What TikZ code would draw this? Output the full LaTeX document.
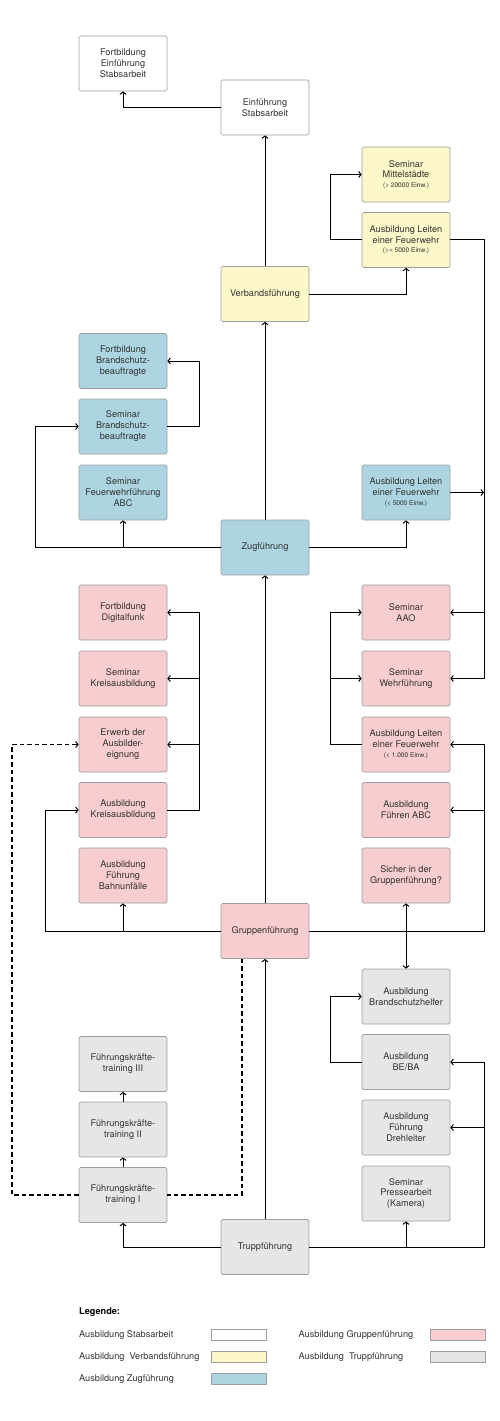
\documentclass[tikz,border=0pt]{standalone}
\usepackage{fontspec}
\setmainfont{TeX Gyre Heros}
\usetikzlibrary{arrows.meta,calc}
\definecolor{cYel}{HTML}{FBF7C8}
\definecolor{cBlue}{HTML}{ADD5E1}
\definecolor{cRed}{HTML}{F7CDD0}
\definecolor{cGray}{HTML}{E6E6E6}
\definecolor{cBorder}{HTML}{9E9E9E}
\definecolor{cText}{HTML}{333333}
\newcommand{\smalltxt}[1]{{\fontsize{6.6}{7.5}\selectfont #1}}
\begin{document}
\begin{tikzpicture}[x=1bp,y=-1bp,
  box/.style={draw=cBorder, line width=0.7bp, rounded corners=1.5bp, minimum width=88bp, minimum height=55bp, inner sep=0pt, align=center, font=\fontsize{9.2}{11}\selectfont, text=cText},
  stab/.style={box, fill=white},
  verb/.style={box, fill=cYel},
  zugb/.style={box, fill=cBlue},
  grp/.style={box, fill=cRed},
  trp/.style={box, fill=cGray},
  conn/.style={line width=1bp, draw=black},
  arr/.style={conn, -{Straight Barb[length=2.4bp,width=6bp,line width=1bp]}},
  darr/.style={conn, {Straight Barb[length=2.4bp,width=6bp,line width=1bp]}-{Straight Barb[length=2.4bp,width=6bp,line width=1bp]}},
  dsh/.style={arr, dash pattern=on 4.5bp off 3bp, line width=1.1bp},
  legtxt/.style={anchor=base west, inner sep=0pt, font=\fontsize{9.2}{11}\selectfont, text=cText},
  swatch/.style={draw=cBorder, line width=0.7bp, minimum width=55bp, minimum height=11bp, inner sep=0pt}
]
\useasboundingbox (0,0) rectangle (500,1421);

% column x: left 123, centre 265, right 406
% Stabsarbeit
\node[stab] (forteinf) at (123,63.5) {Fortbildung\\Einführung\\Stabsarbeit};
\node[stab] (einf) at (265,107.5) {Einführung\\Stabsarbeit};
% Verbandsführung
\node[verb] (semmittel) at (406,174.5) {Seminar\\Mittelstädte\\[-1.5pt]\smalltxt{(> 20000 Einw.)}};
\node[verb] (leitenV) at (406,240) {Ausbildung Leiten\\einer Feuerwehr\\[-1.5pt]\smalltxt{(>= 5000 Einw.)}};
\node[verb] (verband) at (265,294) {Verbandsführung};
% Zugführung
\node[zugb] (fortBS) at (123,361) {Fortbildung\\Brandschutz-\\beauftragte};
\node[zugb] (semBS) at (123,426.5) {Seminar\\Brandschutz-\\beauftragte};
\node[zugb] (semFF) at (123,492.5) {Seminar\\Feuerwehrführung\\ABC};
\node[zugb] (leiten5) at (406,492.5) {Ausbildung Leiten\\einer Feuerwehr\\[-1.5pt]\smalltxt{(< 5000 Einw.)}};
\node[zugb] (zug) at (265,547.5) {Zugführung};
% Gruppenführung
\node[grp] (digital) at (123,612.5) {Fortbildung\\Digitalfunk};
\node[grp] (semkreis) at (123,678.5) {Seminar\\Kreisausbildung};
\node[grp] (erwerb) at (123,744.5) {Erwerb der\\Ausbilder-\\eignung};
\node[grp] (auskreis) at (123,810) {Ausbildung\\Kreisausbildung};
\node[grp] (bahn) at (123,875.5) {Ausbildung\\Führung\\Bahnunfälle};
\node[grp] (aao) at (406,612.5) {Seminar\\AAO};
\node[grp] (wehrf) at (406,678.5) {Seminar\\Wehrführung};
\node[grp] (leiten1) at (406,744.5) {Ausbildung Leiten\\einer Feuerwehr\\[-1.5pt]\smalltxt{(< 1.000 Einw.)}};
\node[grp] (fabc) at (406,810) {Ausbildung\\Führen ABC};
\node[grp] (sicher) at (406,875.5) {Sicher in der\\Gruppenführung?};
\node[grp] (gruppe) at (265,931) {Gruppenführung};
% Truppführung
\node[trp] (bsh) at (406,996.5) {Ausbildung\\Brandschutzhelfer};
\node[trp] (beba) at (406,1062) {Ausbildung\\BE/BA};
\node[trp] (dreh) at (406,1127.5) {Ausbildung\\Führung\\Drehleiter};
\node[trp] (presse) at (406,1193.5) {Seminar\\Pressearbeit\\(Kamera)};
\node[trp] (fkt3) at (123,1064) {Führungskräfte-\\training III};
\node[trp] (fkt2) at (123,1129.5) {Führungskräfte-\\training II};
\node[trp] (fkt1) at (123,1195) {Führungskräfte-\\training I};
\node[trp] (trupp) at (265,1247) {Truppführung};

% helper columns
\coordinate (rx) at (484,0);
\coordinate (rx2) at (330,0);
\coordinate (mx) at (199,0);
\coordinate (lx) at (35,0);
\coordinate (lx2) at (45,0);
\coordinate (dx) at (12,0);
\coordinate (gx) at (242,0);

% connectors top part
\draw[arr] (einf.west) -| (forteinf.south);
\draw[arr] (verband.north) -- (einf.south);
\draw[arr] (verband.east) -| (leitenV.south);
\draw[arr] (leitenV.west) -| (rx2 |- semmittel.west) -- (semmittel.west);
\draw[arr] (leitenV.east) -| (rx |- wehrf.east) -- (wehrf.east);
\draw[arr] (rx |- aao.east) -- (aao.east);
\draw[arr] (leiten5.east) -- (rx |- leiten5.east);
% Zugführung
\draw[arr] (zug.north) -- (verband.south);
\draw[arr] (zug.west) -| (lx |- semBS.west) -- (semBS.west);
\draw[arr] (semFF.south |- zug.west) -- (semFF.south);
\draw[arr] (zug.east) -| (leiten5.south);
\draw[arr] (semBS.east) -| (mx |- fortBS.east) -- (fortBS.east);
% Gruppenführung
\draw[arr] (gruppe.north) -- (zug.south);
\draw[arr] (auskreis.east) -| (mx |- digital.east) -- (digital.east);
\draw[arr] (mx |- semkreis.east) -- (semkreis.east);
\draw[arr] (mx |- erwerb.east) -- (erwerb.east);
\draw[arr] (gruppe.west) -| (lx2 |- auskreis.west) -- (auskreis.west);
\draw[arr] (bahn.south |- gruppe.west) -- (bahn.south);
\draw[arr] (gruppe.east) -| (rx |- leiten1.east) -- (leiten1.east);
\draw[arr] (rx |- fabc.east) -- (fabc.east);
\draw[arr] (leiten1.west) -| (rx2 |- aao.west) -- (aao.west);
\draw[arr] (rx2 |- wehrf.west) -- (wehrf.west);
\draw[darr] (sicher.south) -- (bsh.north);
% dashed
\draw[dsh, -] (gx |- gruppe.south) -- (gx |- fkt1.east) -- (fkt1.east);
\draw[dsh] (fkt1.west) -| (dx |- erwerb.west) -- (erwerb.west);
% Truppführung
\draw[arr] (trupp.north) -- (gruppe.south);
\draw[arr] (trupp.west) -| (fkt1.south);
\draw[arr] (fkt1.north) -- (fkt2.south);
\draw[arr] (fkt2.north) -- (fkt3.south);
\draw[arr] (trupp.east) -| (rx |- beba.east) -- (beba.east);
\draw[arr] (rx |- dreh.east) -- (dreh.east);
\draw[arr] (presse.south |- trupp.east) -- (presse.south);
\draw[arr] (beba.west) -| (rx2 |- bsh.west) -- (bsh.west);

% legend
\node[legtxt, font=\fontsize{9.2}{11}\selectfont\bfseries, text=black] (leg) at (79,1314) {Legende:};
\node[legtxt] (l1) at (79,1337) {Ausbildung Stabsarbeit};
\node[legtxt] (l2) at (79,1359.5) {Ausbildung\ \ Verbandsführung};
\node[legtxt] (l3) at (79,1381.5) {Ausbildung Zugführung};
\node[legtxt] (l4) at (298.5,1337) {Ausbildung Gruppenführung};
\node[legtxt] (l5) at (298.5,1359.5) {Ausbildung\ \ Truppführung};
\node[swatch, fill=white] (s1) at (238.5,1334.5) {};
\node[swatch, fill=cYel] (s2) at (238.5,1357) {};
\node[swatch, fill=cBlue] (s3) at (238.5,1378.5) {};
\node[swatch, fill=cRed] (s4) at (457.5,1334.5) {};
\node[swatch, fill=cGray] (s5) at (457.5,1357) {};
\end{tikzpicture}
\end{document}
